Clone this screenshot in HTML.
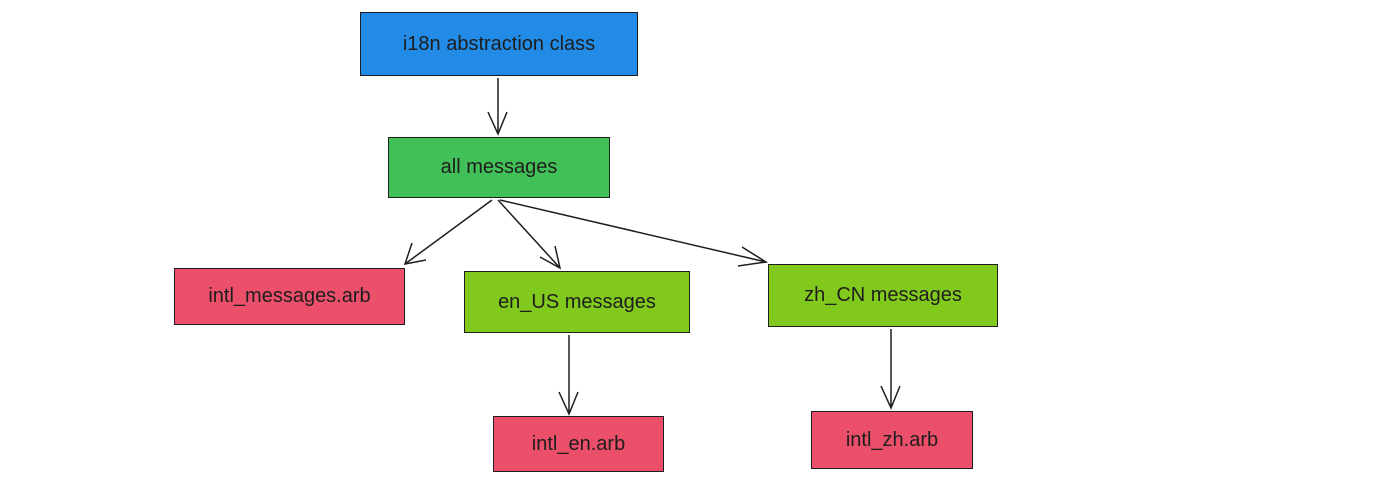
<!DOCTYPE html>
<html><head><style>
body{margin:0;width:1400px;height:487px;background:#fff;position:relative;overflow:hidden;font-family:"Liberation Sans",sans-serif}
.b{position:absolute;border:1.5px solid #1e1e1e;box-sizing:border-box;display:flex;align-items:center;justify-content:center;font-size:20px;color:#1e1e1e}
svg{position:absolute;left:0;top:0}
</style></head><body>
<div class="b" style="left:360px;top:12px;width:278px;height:64px;background:#228be6">i18n abstraction class</div>
<div class="b" style="left:388px;top:137px;width:222px;height:61px;background:#40c057">all messages</div>
<div class="b" style="left:174px;top:268px;width:231px;height:57px;background:#eb4f6a">intl_messages.arb</div>
<div class="b" style="left:464px;top:271px;width:226px;height:62px;background:#82c91e">en_US messages</div>
<div class="b" style="left:768px;top:264px;width:230px;height:63px;background:#82c91e">zh_CN messages</div>
<div class="b" style="left:493px;top:416px;width:171px;height:56px;background:#eb4f6a">intl_en.arb</div>
<div class="b" style="left:811px;top:411px;width:162px;height:58px;background:#eb4f6a">intl_zh.arb</div>
<svg width="1400" height="487" fill="none" stroke="#1e1e1e" stroke-width="1.5">
<path d="M498 78 L498 134 M488 112 L498 134 L507 112"/>
<path d="M492 200 L405 264 M412 243 L405 264 L426 260"/>
<path d="M498 200 L560 268 M540 257 L560 268 L555 246"/>
<path d="M500 200 L766 262 M742 247 L766 262 L738 266"/>
<path d="M569 335 L569 414 M559 392 L569 414 L578 392"/>
<path d="M891 329 L891 408 M881 386 L891 408 L900 386"/>
</svg>
</body></html>
